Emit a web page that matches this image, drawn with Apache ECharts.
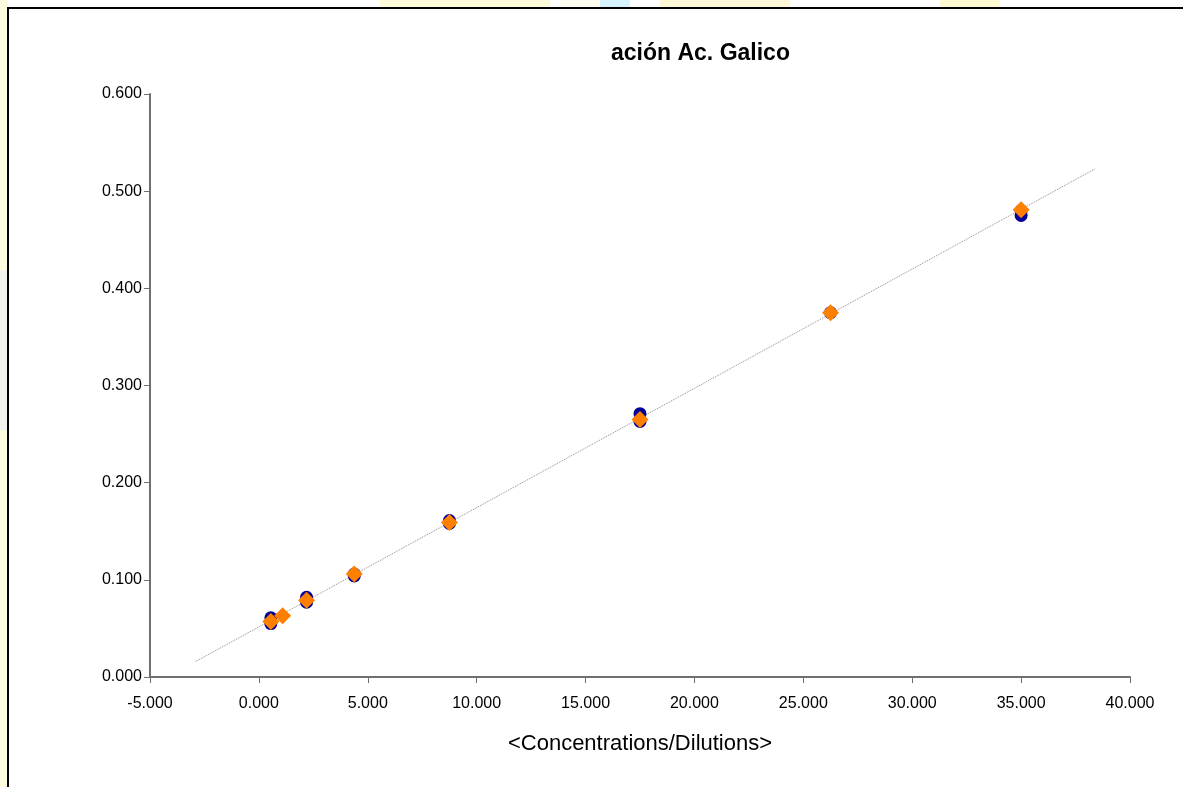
<!DOCTYPE html>
<html>
<head>
<meta charset="utf-8">
<script src="https://cdn.jsdelivr.net/npm/echarts@6/dist/echarts.min.js"></script>
<style>
  html, body { margin: 0; padding: 0; background: #fff; }
  #chart { width: 1183px; height: 787px; }
</style>
</head>
<body>
<div id="chart"></div>
<script>
// replicate set A (blue circles)
var blueX = [0.55, 0.55, 2.19, 2.19, 4.38, 4.38, 8.75, 8.75, 17.5, 17.5, 26.25, 35.0, 35.0]
var blueY = [0.061, 0.055, 0.082, 0.077, 0.106, 0.104, 0.161, 0.158, 0.271, 0.263, 0.375, 0.475, 0.480]
// replicate set B (orange diamonds)
var orangeX = [0.55, 1.09, 2.19, 4.38, 8.75, 17.5, 26.25, 35.0]
var orangeY = [0.057, 0.063, 0.079, 0.106, 0.159, 0.265, 0.375, 0.481]
// linear trend line end points
var trendX = [-2.9, 38.4]
var trendY = [0.016, 0.523]

var xTicks = { min: -5, max: 40, step: 5 }
var yTicks = { min: 0, max: 0.6, step: 0.1 }

function pairs (xs, ys) {
  return xs.map(function (x, i) { return [x, ys[i]] })
}

var font = 'Liberation Sans'
var chart = echarts.init(document.getElementById('chart'))

var option = {
  animation: false,
  backgroundColor: '#fff',
  title: {
    text: 'ación Ac. Galico',
    left: 606,
    top: 37,
    textStyle: { fontFamily: font, fontSize: 23, fontWeight: 'bold', color: '#000' }
  },
  graphic: [
    // faint watermark bits outside the frame
    { type: 'rect', silent: true, shape: { x: 380, y: 0, width: 170, height: 7 }, style: { fill: '#fffbd8' } },
    { type: 'rect', silent: true, shape: { x: 560, y: 0, width: 60, height: 7 }, style: { fill: '#fdfdf0' } },
    { type: 'rect', silent: true, shape: { x: 600, y: 0, width: 30, height: 7 }, style: { fill: '#d6f3ff' } },
    { type: 'rect', silent: true, shape: { x: 660, y: 0, width: 130, height: 7 }, style: { fill: '#fff7d6' } },
    { type: 'rect', silent: true, shape: { x: 940, y: 0, width: 60, height: 7 }, style: { fill: '#fff9d2' } },
    { type: 'rect', silent: true, shape: { x: 0, y: 0, width: 7, height: 787 }, style: { fill: '#fffbe0' } },
    { type: 'rect', silent: true, shape: { x: 0, y: 270, width: 7, height: 160 }, style: { fill: '#f2f2ee' } },
    // chart frame
    {
      type: 'rect',
      silent: true,
      shape: { x: 8, y: 8, width: 1200, height: 800 },
      style: { fill: 'none', stroke: '#000', lineWidth: 2 }
    }
  ],
  grid: { left: 150, right: 53, top: 94, bottom: 110, containLabel: false },
  xAxis: {
    type: 'value',
    min: xTicks.min,
    max: xTicks.max,
    interval: xTicks.step,
    name: '<Concentrations/Dilutions>',
    nameLocation: 'middle',
    nameGap: 56,
    nameTextStyle: { fontFamily: font, fontSize: 22, color: '#000' },
    axisLine: { onZero: false, lineStyle: { color: '#707070', width: 2 } },
    axisTick: { show: true, length: 6, lineStyle: { color: '#707070' } },
    axisLabel: {
      fontFamily: font, fontSize: 16, color: '#000', margin: 19,
      formatter: function (v) { return v.toFixed(3) }
    },
    splitLine: { show: false }
  },
  yAxis: {
    type: 'value',
    min: yTicks.min,
    max: yTicks.max,
    interval: yTicks.step,
    axisLine: { show: true, onZero: false, lineStyle: { color: '#707070', width: 2 } },
    axisTick: { show: true, length: 6, lineStyle: { color: '#707070' } },
    axisLabel: {
      fontFamily: font, fontSize: 16, color: '#000', margin: 8,
      formatter: function (v) { return v.toFixed(3) }
    },
    splitLine: { show: false }
  },
  series: [
    {
      name: 'trend',
      type: 'line',
      data: pairs(trendX, trendY),
      symbol: 'none',
      lineStyle: { color: '#8c8c8c', width: 1, type: [1, 1] },
      z: 1
    },
    {
      name: 'A',
      type: 'scatter',
      data: pairs(blueX, blueY),
      symbol: 'circle',
      symbolSize: 13,
      itemStyle: { color: '#000099', opacity: 1 },
      z: 2
    },
    {
      name: 'B',
      type: 'scatter',
      data: pairs(orangeX, orangeY),
      symbol: 'diamond',
      symbolSize: 17,
      itemStyle: { color: '#ff8000', opacity: 1 },
      z: 3
    }
  ]
}

chart.setOption(option)
</script>
</body>
</html>
